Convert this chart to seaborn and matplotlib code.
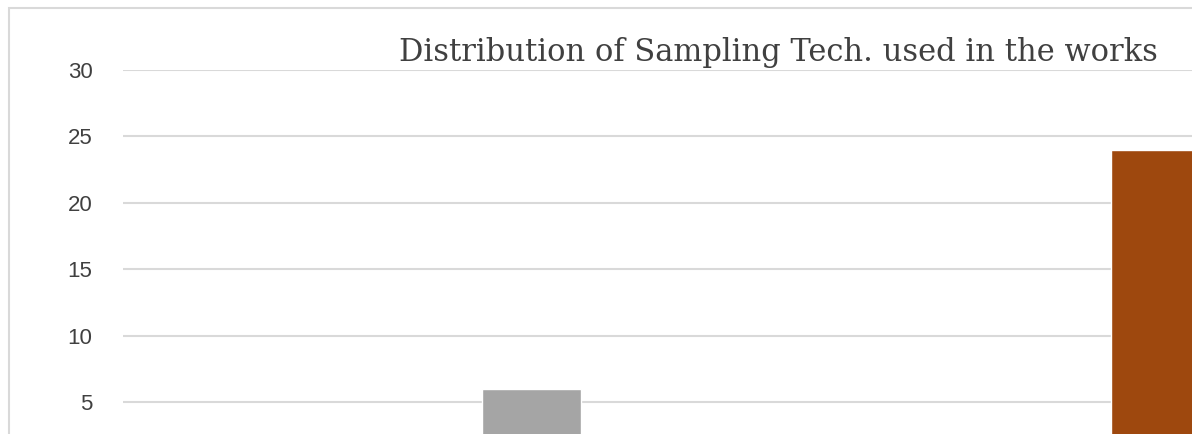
import matplotlib
matplotlib.use('Agg')
import matplotlib.pyplot as plt
import seaborn as sns
import pandas as pd
from matplotlib.patches import Rectangle

# visible part of the chart: two sampling techniques
techniques = ['Technique A', 'Technique B']
counts = [6, 24]
bar_colors = ['#a5a5a5', '#9e480e']
y_ticks = [5, 10, 15, 20, 25, 30]
title = 'Distribution of Sampling Tech. used in the works'

W, H = 1192, 434
sns.set_theme(style='white')
plt.rcParams['font.family'] = ['Liberation Sans', 'DejaVu Sans']

fig = plt.figure(figsize=(W / 100, H / 100), dpi=100)
fig.patch.set_facecolor('white')

# chart frame (only top/left visible in the crop)
fig.add_artist(Rectangle((8.5 / W, -0.1), 1.2, 1.1 - 8.5 / H,
                         transform=fig.transFigure, fill=False,
                         edgecolor='#d9d9d9', linewidth=1.5))

# axes: value 30 at y=70px, value 0 at y=468px (below crop)
ax = fig.add_axes([123 / W, -34.4 / H, 1 - 123 / W, (468.4 - 70) / H])

df = pd.DataFrame({'technique': techniques, 'count': counts})
sns.barplot(data=df, x='technique', y='count', hue='technique',
            palette=bar_colors, legend=False, width=99 / 629, ax=ax,
            saturation=1, zorder=3)

ax.set_ylim(0, 30)
ax.set_xlim(-(531 - 123) / 629, 1 + (1192 - 1160.5) / 629)
ax.set_yticks(y_ticks)
ax.set_yticklabels([str(v) for v in y_ticks], color='#404040', fontsize=16)
ax.tick_params(axis='y', length=0, pad=22)
ax.set_xticks([])
ax.set_xlabel('')
ax.set_ylabel('')
ax.grid(axis='y', color='#d9d9d9', linewidth=1.5, zorder=0)
for s in ax.spines.values():
    s.set_visible(False)

fig.text(399 / W, 1 - 61 / H, title, fontsize=22, color='#404040',
         family=['DejaVu Serif'], ha='left', va='baseline')

fig.savefig('out.png', dpi=100)
